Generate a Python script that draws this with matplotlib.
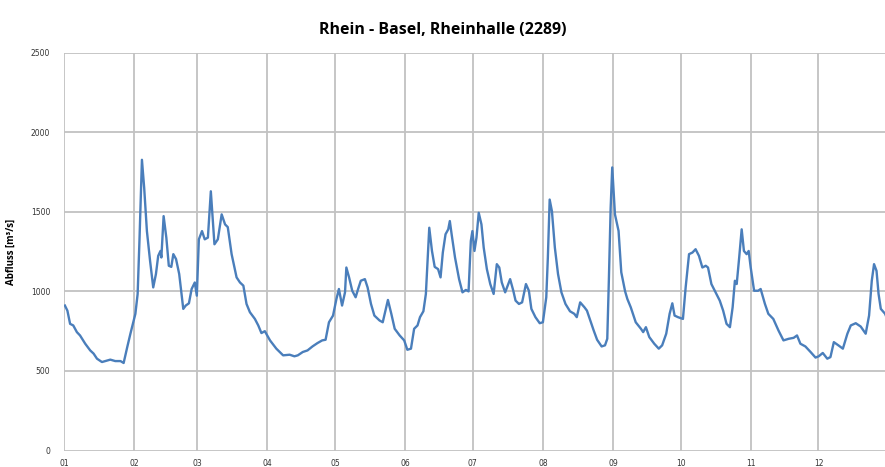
import matplotlib
matplotlib.use("Agg")
import matplotlib.pyplot as plt

title = "Rhein - Basel, Rheinhalle (2289)"
ylabel = "Abfluss [m³/s]"
month_labels = ["01", "02", "03", "04", "05", "06", "07", "08", "09", "10", "11", "12"]
month_starts = [0, 31, 59, 90, 120, 151, 181, 212, 243, 273, 304, 334]
y_ticks = [0, 500, 1000, 1500, 2000, 2500]

# day of year (0 = 1 Jan) and discharge [m3/s]
day = [0.4, 1.5, 2.7, 4.1, 5.7, 7.1, 9.4, 11.6, 13.1, 14.6, 16.8, 20.5, 22.7, 25.0, 26.4, 28.0, 29.4,
       31.6, 32.6, 33.4, 34.5, 35.5, 36.7, 38.1, 39.5, 40.7, 41.7, 42.7, 43.1, 44.1, 45.3, 46.4, 47.5,
       48.4, 49.6, 51.0, 52.8, 53.9, 55.3, 56.5, 57.9, 58.8,
       59.7, 61.1, 62.3, 63.7, 65.0, 66.6, 68.1, 69.8, 71.3, 72.5, 74.2, 76.4, 77.9, 79.4, 80.8, 82.3,
       84.5, 86.0, 87.4, 88.9,
       91.2, 94.0, 97.0, 99.9, 102.0, 103.5, 105.7, 107.8, 110.0, 112.2, 114.3, 115.8, 117.3, 119.1,
       120.6, 121.7, 123.1, 124.4, 125.0, 126.2, 127.6, 129.1, 130.2, 131.4, 133.2, 134.4, 135.9, 137.4,
       139.7, 141.1, 143.4, 144.9, 146.4, 148.6, 150.6,
       152.0, 153.6, 155.0, 156.5, 157.6, 159.1, 160.2, 161.7, 162.9, 164.1, 165.6, 166.7, 167.7, 168.9,
       170.1, 170.8, 171.6, 173.1, 174.9, 176.4, 177.9, 179.1, 180.1, 180.8,
       181.7, 182.6, 183.6, 184.8, 185.8, 187.2, 188.7, 190.2, 191.6, 192.7, 193.8, 195.3, 197.5, 198.9,
       199.9, 201.4, 202.8, 204.5, 205.8, 206.9, 208.7, 210.6,
       212.0, 213.5, 214.2, 215.0, 216.0, 217.3, 218.7, 220.2, 222.0, 224.0, 225.9, 227.0, 228.5, 230.4,
       231.5, 233.0, 234.5, 236.0, 238.0, 239.5, 240.5, 241.2, 242.0, 242.7,
       243.9, 245.5, 246.7, 248.4, 249.4, 250.9, 253.1, 255.4, 256.4, 257.6, 259.1, 261.3, 263.3, 264.8,
       266.6, 268.1, 269.3, 270.3, 271.8,
       274.0, 275.2, 276.7, 278.2, 279.6, 281.1, 282.6, 284.1, 285.1, 286.6, 288.8, 290.3, 291.8, 293.3,
       294.8, 296.0, 297.0, 297.8, 298.9, 300.0, 301.0, 302.2, 303.1,
       304.0, 305.5, 307.3, 308.4, 310.3, 311.8, 314.0, 316.3, 318.5, 320.8, 323.0, 324.5, 326.0, 328.2,
       330.5, 332.7,
       334.1, 335.9, 337.9, 339.3, 340.8, 342.8, 344.8, 346.8, 348.3, 350.5, 352.7, 354.9, 356.4, 357.6,
       358.6, 359.7, 360.6, 361.6, 363.5, 364.6]
flow = [911, 879, 796, 786, 744, 723, 671, 629, 609, 577, 556, 571, 562, 562, 550, 650, 734,
        859, 984, 1317, 1827, 1650, 1379, 1192, 1025, 1109, 1223, 1254, 1213, 1473, 1338, 1161, 1154,
        1234, 1203, 1109, 890, 911, 925, 1015, 1056, 973,
        1327, 1379, 1327, 1338, 1629, 1296, 1327, 1484, 1421, 1404, 1234, 1088, 1056, 1036, 921, 869,
        827, 786, 738, 750,
        692, 640, 598, 602, 592, 598, 619, 629, 654, 675, 692, 696, 806, 848,
        952, 1015, 911, 994, 1150, 1088, 1004, 963, 1015, 1067, 1077, 1025, 921, 848,
        817, 806, 946, 859, 765, 723, 692,
        633, 640, 765, 786, 838, 875, 984, 1400, 1254, 1154, 1140, 1088, 1244, 1359,
        1390, 1442, 1359, 1213, 1077, 994, 1009, 1000, 1317, 1379,
        1254, 1338, 1494, 1421, 1275, 1140, 1046, 984, 1171, 1150, 1056, 994, 1077, 1004,
        942, 921, 931, 1046, 1004, 890, 838, 800,
        806, 963, 1213, 1577, 1504, 1275, 1109, 994, 921, 875, 859, 838, 931, 900,
        879, 817, 754, 696, 654, 661, 702, 1067, 1525, 1779,
        1484, 1380, 1120, 1000, 952, 900, 806, 765, 744, 775, 713, 671, 640, 661,
        734, 859, 925, 848, 838,
        827, 1025, 1234, 1244, 1265, 1223, 1150, 1161, 1150, 1046, 984, 942, 879, 796,
        775, 900, 1067, 1046, 1213, 1390, 1254, 1234, 1254,
        1150, 1004, 1004, 1015, 921, 859, 827, 754, 692, 702, 708, 723, 671, 654,
        619, 584,
        592, 613, 577, 587, 681, 661, 640, 734, 786, 800, 779, 734, 848, 1067,
        1171, 1129, 984, 890, 859, 820]

W, H = 885, 467
fig = plt.figure(figsize=(W / 100, H / 100), dpi=100)
ax = fig.add_axes([64 / W, 1 - 450.5 / H, (888.5 - 64) / W, 397.8 / H])

ax.plot(day, flow, color="#4a7ebb", linewidth=1.7, zorder=3)

ax.set_xlim(0, 365)
ax.set_ylim(0, 2500)
ax.set_xticks(month_starts)
ax.set_xticklabels(month_labels)
ax.set_yticks(y_ticks)
ax.set_yticklabels([str(v) for v in y_ticks])
ax.grid(True, color="#c2c2c2", linewidth=1.3, zorder=0)
ax.set_axisbelow(True)
for s in ax.spines.values():
    s.set_visible(False)
ax.tick_params(axis="both", length=0, labelsize=5.5, labelcolor="#333333")
ax.tick_params(axis="y", pad=10)
ax.tick_params(axis="x", pad=6)

ax.set_ylabel(ylabel, fontsize=7, fontweight="bold", family="Open Sans", labelpad=10)
fig.text(0.5, 1 - 30 / H, title, ha="center", va="center", fontsize=11.5,
         fontweight="bold", family="Open Sans")

fig.savefig("out.png", dpi=100)
